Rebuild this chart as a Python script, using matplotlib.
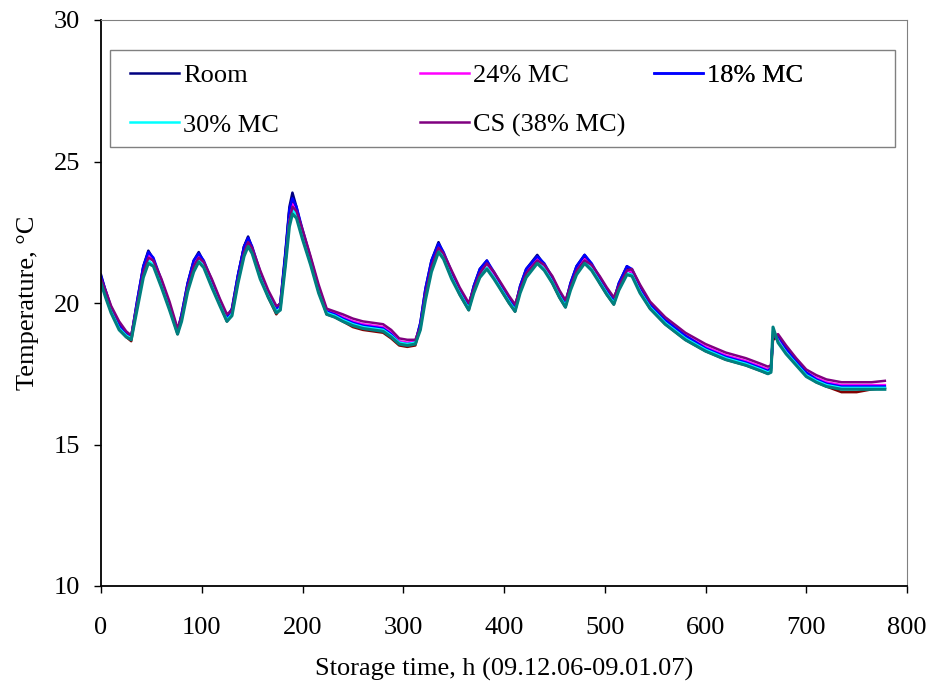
import matplotlib
matplotlib.use("Agg")
import matplotlib.pyplot as plt
from matplotlib.patches import Rectangle

# storage time, h
hours = [0, 5, 10, 18, 25, 30, 36, 42, 47, 52,
         60, 68, 76, 80, 86, 92, 97, 102, 110, 118,
         125, 130, 136, 142, 146, 150, 158, 166, 174, 178,
         183, 187, 190, 194, 200, 208, 216, 224, 232, 240,
         250, 260, 270, 280, 288, 296, 304, 312, 317, 322,
         328, 335, 340, 348, 356, 365, 370, 376, 383, 390,
         398, 405, 411, 416, 422, 433, 440, 448, 455, 461,
         466, 472, 480, 487, 495, 502, 509, 514, 522, 527,
         535, 545, 560, 580, 600, 620, 640, 655, 662, 665,
         667, 672, 680, 690, 700, 710, 720, 735, 750, 765,
         778]

# temperatures, degC
room = [21.0, 20.35, 19.8, 19.2, 18.9, 18.8, 20.1, 21.3, 21.85, 21.55,
        20.7, 19.9, 19.0, 19.6, 20.7, 21.5, 21.8, 21.45, 20.7, 20.0,
        19.45, 19.8, 21.0, 22.0, 22.35, 21.95, 21.0, 20.3, 19.8, 20.0,
        21.8, 23.4, 23.9, 23.4, 22.5, 21.5, 20.5, 19.7, 19.6, 19.4,
        19.25, 19.15, 19.1, 19.05, 18.85, 18.6, 18.55, 18.6, 19.3, 20.5,
        21.5, 22.15, 21.75, 21.0, 20.4, 19.9, 20.6, 21.2, 21.5, 21.0,
        20.5, 20.1, 19.85, 20.6, 21.2, 21.7, 21.35, 20.8, 20.3, 20.0,
        20.7, 21.3, 21.7, 21.35, 20.8, 20.4, 20.1, 20.7, 21.3, 21.15,
        20.5, 19.85, 19.3, 18.75, 18.35, 18.05, 17.85, 17.65, 17.55, 17.7,
        18.8, 18.75, 18.3, 17.9, 17.5, 17.25, 17.1, 17.0, 17.0, 17.0,
        17.0]

mc24 = [20.85, 20.3, 19.8, 19.25, 18.95, 18.8, 20.0, 21.2, 21.7, 21.5,
        20.75, 19.95, 19.0, 19.5, 20.6, 21.35, 21.65, 21.4, 20.75, 20.05,
        19.5, 19.7, 20.85, 21.85, 22.2, 21.9, 21.05, 20.35, 19.8, 19.9,
        21.5, 23.0, 23.5, 23.2, 22.5, 21.55, 20.55, 19.75, 19.65, 19.5,
        19.35, 19.25, 19.2, 19.15, 18.95, 18.65, 18.6, 18.65, 19.2, 20.4,
        21.35, 22.0, 21.7, 21.05, 20.45, 19.9, 20.5, 21.05, 21.4, 21.0,
        20.55, 20.15, 19.85, 20.5, 21.05, 21.55, 21.3, 20.85, 20.35, 20.0,
        20.6, 21.15, 21.55, 21.3, 20.85, 20.45, 20.1, 20.6, 21.15, 21.1,
        20.55, 19.95, 19.4, 18.85, 18.45, 18.15, 17.95, 17.75, 17.65, 17.7,
        18.9, 18.75, 18.35, 17.95, 17.55, 17.35, 17.2, 17.1, 17.1, 17.1,
        17.1]

mc18 = [20.95, 20.4, 19.85, 19.25, 18.95, 18.8, 20.1, 21.3, 21.8, 21.6,
        20.8, 19.95, 19.0, 19.6, 20.7, 21.5, 21.75, 21.5, 20.8, 20.1,
        19.5, 19.8, 21.0, 22.0, 22.3, 22.0, 21.1, 20.35, 19.8, 20.0,
        21.7, 23.3, 23.7, 23.4, 22.6, 21.6, 20.55, 19.7, 19.6, 19.45,
        19.3, 19.2, 19.15, 19.1, 18.9, 18.6, 18.55, 18.6, 19.3, 20.5,
        21.5, 22.1, 21.8, 21.1, 20.5, 19.9, 20.6, 21.2, 21.5, 21.1,
        20.6, 20.2, 19.85, 20.6, 21.2, 21.65, 21.4, 20.9, 20.4, 20.0,
        20.7, 21.3, 21.7, 21.4, 20.9, 20.5, 20.1, 20.7, 21.3, 21.2,
        20.6, 19.95, 19.4, 18.85, 18.4, 18.1, 17.9, 17.7, 17.6, 17.7,
        18.85, 18.85, 18.4, 17.95, 17.55, 17.3, 17.15, 17.05, 17.05, 17.05,
        17.05]

mc30 = [20.75, 20.2, 19.7, 19.1, 18.85, 18.75, 19.9, 21.0, 21.5, 21.35,
        20.6, 19.8, 18.95, 19.4, 20.5, 21.2, 21.5, 21.3, 20.6, 19.95,
        19.4, 19.6, 20.75, 21.7, 22.05, 21.8, 20.9, 20.25, 19.7, 19.8,
        21.4, 22.9, 23.3, 23.1, 22.3, 21.4, 20.4, 19.65, 19.55, 19.4,
        19.25, 19.15, 19.1, 19.05, 18.85, 18.6, 18.55, 18.6, 19.1, 20.2,
        21.2, 21.85, 21.6, 20.9, 20.35, 19.8, 20.4, 20.95, 21.25, 20.9,
        20.45, 20.05, 19.75, 20.4, 20.95, 21.45, 21.2, 20.75, 20.25, 19.9,
        20.5, 21.05, 21.45, 21.2, 20.75, 20.35, 20.0, 20.5, 21.05, 21.0,
        20.4, 19.85, 19.3, 18.75, 18.35, 18.05, 17.85, 17.65, 17.55, 17.6,
        19.0, 18.65, 18.25, 17.85, 17.45, 17.25, 17.1, 17.0, 17.0, 17.0,
        17.0]

cs38 = [20.85, 20.4, 19.9, 19.35, 19.0, 18.85, 19.95, 21.1, 21.6, 21.5,
        20.85, 20.05, 19.1, 19.5, 20.55, 21.3, 21.6, 21.45, 20.85, 20.15,
        19.6, 19.75, 20.8, 21.8, 22.15, 21.95, 21.15, 20.45, 19.9, 19.95,
        21.4, 22.9, 23.4, 23.25, 22.6, 21.65, 20.65, 19.8, 19.7, 19.6,
        19.45, 19.35, 19.3, 19.25, 19.05, 18.75, 18.7, 18.7, 19.15, 20.3,
        21.3, 21.95, 21.75, 21.15, 20.55, 20.0, 20.5, 21.05, 21.4, 21.1,
        20.65, 20.25, 19.95, 20.5, 21.05, 21.5, 21.35, 20.95, 20.45, 20.1,
        20.6, 21.15, 21.5, 21.35, 20.95, 20.55, 20.2, 20.6, 21.15, 21.2,
        20.65, 20.05, 19.5, 18.95, 18.55, 18.25, 18.05, 17.85, 17.75, 17.8,
        18.8, 18.9, 18.5, 18.05, 17.65, 17.45, 17.3, 17.2, 17.2, 17.2,
        17.25]

# two extra sensors (no legend entry in the original)
extra_red = [20.9, 20.25, 19.7, 19.1, 18.8, 18.65, 20.0, 21.25, 21.8, 21.5,
             20.65, 19.85, 18.9, 19.5, 20.65, 21.45, 21.7, 21.4, 20.65, 19.95,
             19.35, 19.7, 20.95, 22.0, 22.3, 21.9, 20.95, 20.2, 19.6, 19.8,
             21.7, 23.3, 23.6, 23.3, 22.45, 21.45, 20.45, 19.6, 19.5, 19.35,
             19.15, 19.05, 19.0, 18.95, 18.75, 18.5, 18.45, 18.5, 19.2, 20.4,
             21.4, 22.0, 21.65, 20.95, 20.3, 19.75, 20.5, 21.1, 21.45, 20.95,
             20.4, 20.0, 19.7, 20.5, 21.1, 21.6, 21.25, 20.7, 20.2, 19.85,
             20.6, 21.2, 21.6, 21.25, 20.7, 20.3, 19.95, 20.6, 21.2, 21.05,
             20.4, 19.8, 19.25, 18.7, 18.3, 18.0, 17.8, 17.6, 17.5, 17.6,
             18.7, 18.8, 18.3, 17.85, 17.45, 17.2, 17.05, 16.85, 16.85, 16.95,
             17.0]

extra_teal = [20.7, 20.15, 19.65, 19.05, 18.8, 18.7, 19.8, 20.9, 21.4, 21.3,
              20.55, 19.75, 18.9, 19.35, 20.4, 21.1, 21.45, 21.25, 20.55, 19.9,
              19.35, 19.55, 20.7, 21.65, 22.0, 21.75, 20.85, 20.2, 19.65, 19.75,
              21.3, 22.7, 23.15, 23.0, 22.25, 21.35, 20.35, 19.6, 19.5, 19.35,
              19.2, 19.1, 19.05, 19.0, 18.8, 18.55, 18.5, 18.55, 19.05, 20.1,
              21.1, 21.8, 21.55, 20.85, 20.3, 19.75, 20.35, 20.9, 21.2, 20.85,
              20.4, 20.0, 19.7, 20.35, 20.9, 21.4, 21.15, 20.7, 20.2, 19.85,
              20.45, 21.0, 21.4, 21.15, 20.7, 20.3, 19.95, 20.45, 21.0, 20.95,
              20.35, 19.8, 19.25, 18.7, 18.3, 18.0, 17.8, 17.6, 17.5, 17.55,
              19.15, 18.6, 18.2, 17.8, 17.4, 17.2, 17.05, 16.95, 16.95, 16.95,
              16.95]

labels = ["Room", "24% MC", "18% MC", "30% MC", "CS (38% MC)"]
colors = ["#000080", "#FF00FF", "#0000FF", "#00FFFF", "#800080"]

plt.rcParams["font.family"] = ["Liberation Serif", "DejaVu Serif"]
fontsize = 19

fig = plt.figure(figsize=(9.32, 6.91), dpi=100)
ax = fig.add_axes([101 / 932, 1 - 586 / 691, 806 / 932, 566 / 691])

handles = []
for series, label, color in zip([room, mc24, mc18, mc30, cs38], labels, colors):
    h, = ax.plot(hours, series, color=color, lw=1.8, label=label)
    handles.append(h)
ax.plot(hours, extra_red, color="#800000", lw=1.8, zorder=1)
ax.plot(hours, extra_teal, color="#008080", lw=2.2)

ax.set_xlim(0, 800)
ax.set_ylim(10, 30)
ax.set_xticks(range(0, 801, 100))
ax.set_yticks([10, 15, 20, 25, 30])
ax.tick_params(direction="out", length=5, width=1, labelsize=fontsize,
               top=False, right=False)
ax.tick_params(axis="x", pad=17)
ax.tick_params(axis="y", pad=10)
for side in ["top", "right"]:
    ax.spines[side].set_color("#808080")
for side in ["left", "bottom"]:
    ax.spines[side].set_linewidth(1.3)

ax.set_xlabel("Storage time, h (09.12.06-09.01.07)", fontsize=fontsize, labelpad=14)
ax.set_ylabel("Temperature, \u00b0C", fontsize=fontsize, labelpad=11)

# legend: gray box with three frameless columns inside
ax.add_patch(Rectangle((9 / 806, (586 - 147) / 566), 785 / 806, 97 / 566,
                       transform=ax.transAxes, facecolor="white",
                       edgecolor="#808080", lw=1, zorder=5))
columns = [[0, 3], [1, 4], [2]]
col_x = [0.020, 0.380, 0.670]
for idx, x0 in zip(columns, col_x):
    leg = ax.legend([handles[i] for i in idx], [labels[i] for i in idx],
                    loc="upper left", bbox_to_anchor=(x0, 0.946),
                    frameon=False, fontsize=fontsize, borderpad=0,
                    handlelength=1.85, handletextpad=0.15, labelspacing=0.98)
    leg.set_zorder(6)
    ax.add_artist(leg)

plt.savefig("out.png", dpi=100)
